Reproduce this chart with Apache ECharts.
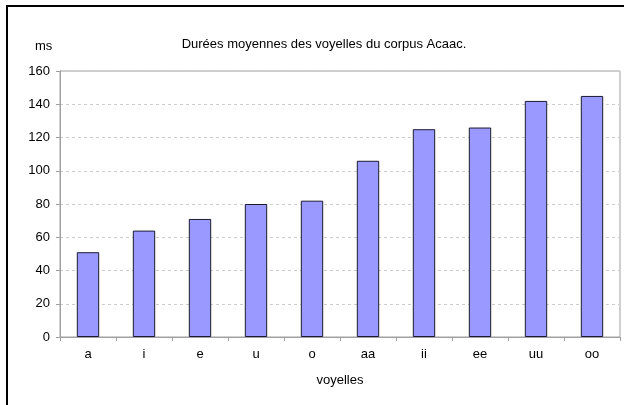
<!DOCTYPE html>
<html>
<head>
<meta charset="utf-8">
<script src="https://cdn.jsdelivr.net/npm/echarts@6/dist/echarts.min.js"></script>
<style>
  html, body { margin: 0; padding: 0; background: #fff; }
  #chart { width: 624px; height: 405px; }
</style>
</head>
<body>
<div id="chart"></div>
<script>
// Mean vowel durations (ms) for the Acaac corpus
const voyelles = ['a', 'i', 'e', 'u', 'o', 'aa', 'ii', 'ee', 'uu', 'oo'];
const durees = [51, 64, 71, 80, 82, 106, 125, 126, 142, 145];
const yTicks = { min: 0, max: 160, interval: 20 };

const chart = echarts.init(document.getElementById('chart'), null, { renderer: 'canvas' });
const font = 'Liberation Sans, Arial, sans-serif';

chart.setOption({
  animation: false,
  backgroundColor: '#fff',
  title: {
    text: 'Durées moyennes des voyelles du corpus Acaac.',
    left: 319,
    textAlign: 'center',
    top: 33,
    textStyle: { fontFamily: font, fontSize: 13, fontWeight: 'normal', color: '#000' }
  },
  graphic: [
    {
      type: 'polyline',
      shape: { points: [[7, 405], [7, 6], [624, 6]] },
      style: { stroke: '#000', lineWidth: 2, fill: null }
    },
    {
      type: 'text',
      left: 35, top: 40,
      style: { text: 'ms', font: '13px ' + font, fill: '#000' }
    }
  ],
  grid: {
    left: 60, right: 4, top: 71, bottom: 68,
    show: true, borderColor: '#a0a0a0', borderWidth: 1
  },
  xAxis: {
    type: 'category',
    data: voyelles,
    name: 'voyelles',
    nameLocation: 'middle',
    nameGap: 37,
    nameTextStyle: { fontFamily: font, fontSize: 13, color: '#000' },
    axisLine: { lineStyle: { color: '#a0a0a0' } },
    axisTick: { show: true, length: 4, lineStyle: { color: '#a0a0a0' } },
    axisLabel: { fontFamily: font, fontSize: 13, color: '#000', margin: 11 }
  },
  yAxis: {
    type: 'value',
    min: yTicks.min, max: yTicks.max, interval: yTicks.interval,
    axisLine: { show: true, lineStyle: { color: '#a0a0a0' } },
    axisTick: { show: true, length: 4, lineStyle: { color: '#a0a0a0' } },
    axisLabel: { fontFamily: font, fontSize: 13, color: '#000', margin: 10 },
    splitLine: { lineStyle: { color: '#cccccc', type: [3, 3] } }
  },
  series: [{
    type: 'bar',
    data: durees,
    barWidth: '40%',
    itemStyle: { color: '#9999ff', borderColor: '#1a1a33', borderWidth: 1 }
  }]
});
</script>
</body>
</html>
